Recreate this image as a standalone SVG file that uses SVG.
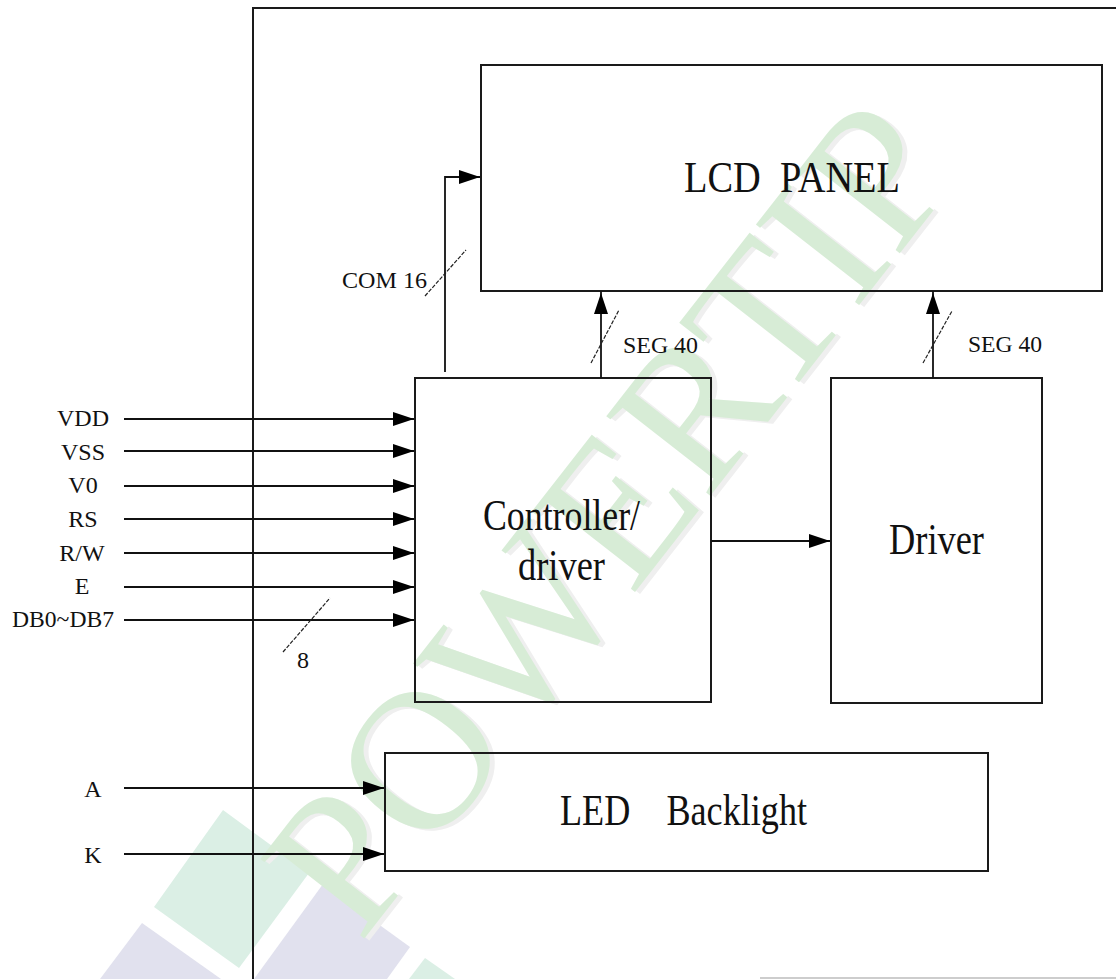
<svg xmlns="http://www.w3.org/2000/svg" width="1116" height="979" viewBox="0 0 1116 979">
<style>
.box{fill:none;stroke:#1a1a1a;stroke-width:2}
.ln{fill:none;stroke:#111;stroke-width:1.8}
.sl{fill:none;stroke:#222;stroke-width:1.2;stroke-dasharray:4 1.5}
.big{font-family:"Liberation Serif",serif;font-size:44px;fill:#111}
.sm{font-family:"Liberation Serif",serif;font-size:24px;fill:#111}
.wm{font-family:"Liberation Serif",serif;font-size:200px;fill:#d7ecd6}
.wms{font-family:"Liberation Serif",serif;font-size:200px;fill:#efefef}
</style>
<defs>
<marker id="ah" markerUnits="userSpaceOnUse" markerWidth="22" markerHeight="16" refX="21" refY="7" orient="auto">
<path d="M0,0 L21,7 L0,14 z" fill="#000"/>
</marker>
</defs>
<rect width="1116" height="979" fill="#fff"/>
<g id="watermark">
<polygon points="223,810 309,873 239,968 154,907" fill="#dbefe5"/>
<polygon points="142,923 221,979 100,979" fill="#e1e1ee"/>
<polygon points="323,884 410,947 387,979 254,979" fill="#e1e1ee"/>
<polygon points="425,958 455,979 409,979" fill="#dbefe5"/>
<text class="wms" transform="translate(365,946) rotate(-52)" textLength="980" lengthAdjust="spacingAndGlyphs">POWERTIP</text>
<text class="wm" transform="translate(360,944) rotate(-52)" textLength="980" lengthAdjust="spacingAndGlyphs">POWERTIP</text>
</g>
<g id="frame">
<path class="box" d="M253,979 V8 H1116"/>
<line x1="760" y1="978" x2="1116" y2="978" stroke="#bdbdbd" stroke-width="1.5"/>
</g>
<g id="lcd-panel">
<rect class="box" x="481" y="65" width="621" height="226"/>
<text class="big" x="684" y="192" textLength="216" lengthAdjust="spacingAndGlyphs" xml:space="preserve">LCD  PANEL</text>
</g>
<g id="controller">
<rect class="box" x="415" y="378" width="296" height="324"/>
<text class="big" x="483" y="530" textLength="157" lengthAdjust="spacingAndGlyphs">Controller/</text>
<text class="big" x="518" y="580" textLength="87" lengthAdjust="spacingAndGlyphs">driver</text>
</g>
<g id="driver">
<rect class="box" x="831" y="378" width="211" height="325"/>
<text class="big" x="889" y="554" textLength="95" lengthAdjust="spacingAndGlyphs">Driver</text>
</g>
<g id="led-backlight">
<rect class="box" x="385" y="753" width="603" height="118"/>
<text class="big" x="560" y="825" textLength="247" lengthAdjust="spacingAndGlyphs" xml:space="preserve">LED    Backlight</text>
</g>
<g id="connectors">
<line class="ln" x1="124" y1="419" x2="414" y2="419" marker-end="url(#ah)"/>
<line class="ln" x1="124" y1="451" x2="414" y2="451" marker-end="url(#ah)"/>
<line class="ln" x1="124" y1="486" x2="414" y2="486" marker-end="url(#ah)"/>
<line class="ln" x1="124" y1="519" x2="414" y2="519" marker-end="url(#ah)"/>
<line class="ln" x1="124" y1="553" x2="414" y2="553" marker-end="url(#ah)"/>
<line class="ln" x1="124" y1="587" x2="414" y2="587" marker-end="url(#ah)"/>
<line class="ln" x1="124" y1="620" x2="414" y2="620" marker-end="url(#ah)"/>
<line class="ln" x1="124" y1="788" x2="384" y2="788" marker-end="url(#ah)"/>
<line class="ln" x1="124" y1="854" x2="384" y2="854" marker-end="url(#ah)"/>
<line class="ln" x1="711" y1="541" x2="830" y2="541" marker-end="url(#ah)"/>
<path class="ln" d="M445,372 V177 H480" marker-end="url(#ah)"/>
<line class="ln" x1="601" y1="378" x2="601" y2="293" marker-end="url(#ah)"/>
<line class="ln" x1="601" y1="293" x2="601" y2="291"/>
<line class="ln" x1="933" y1="378" x2="933" y2="293" marker-end="url(#ah)"/>
<line class="ln" x1="933" y1="293" x2="933" y2="291"/>
<line class="sl" x1="283" y1="652" x2="330" y2="598"/>
<line class="sl" x1="425" y1="296" x2="466" y2="250"/>
<line class="sl" x1="591" y1="363" x2="619" y2="310"/>
<line class="sl" x1="923" y1="363" x2="952" y2="311"/>
</g>
<g id="labels">
<text class="sm" x="83" y="426" text-anchor="middle">VDD</text>
<text class="sm" x="83" y="460" text-anchor="middle">VSS</text>
<text class="sm" x="83" y="493" text-anchor="middle">V0</text>
<text class="sm" x="83" y="527" text-anchor="middle">RS</text>
<text class="sm" x="82" y="561" text-anchor="middle">R/W</text>
<text class="sm" x="82" y="594" text-anchor="middle">E</text>
<text class="sm" x="12" y="627" textLength="102" lengthAdjust="spacingAndGlyphs">DB0~DB7</text>
<text class="sm" x="303" y="668" text-anchor="middle">8</text>
<text class="sm" x="93" y="797" text-anchor="middle">A</text>
<text class="sm" x="93" y="863" text-anchor="middle">K</text>
<text class="sm" x="342" y="288" textLength="85" lengthAdjust="spacingAndGlyphs">COM 16</text>
<text class="sm" x="623" y="353" textLength="75" lengthAdjust="spacingAndGlyphs">SEG 40</text>
<text class="sm" x="968" y="352" textLength="74" lengthAdjust="spacingAndGlyphs">SEG 40</text>
</g>
</svg>
